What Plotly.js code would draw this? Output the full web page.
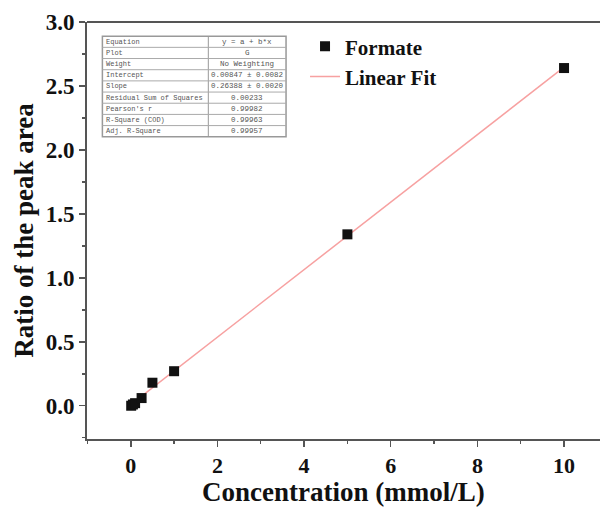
<!DOCTYPE html>
<html>
<head>
<meta charset="utf-8">
<script src="https://cdn.plot.ly/plotly-3.0.1.min.js"></script>
<style>
  html, body { margin: 0; padding: 0; background: #fff; }
  #chart { width: 600px; height: 511px; }
</style>
</head>
<body>
<div id="chart"></div>
<script>
// Formate calibration: concentration vs. peak-area ratio
const concentration = [0.01, 0.05, 0.1, 0.25, 0.5, 1, 5, 10];
const peakRatio = [0.0, 0.01, 0.02, 0.06, 0.18, 0.27, 1.34, 2.64];

// Linear fit parameters (y = a + b*x)
const fitIntercept = 0.00847;
const fitSlope = 0.26388;
const fitX = [0, 10];

// Fit summary table
const statLabels = ["Equation", "Plot", "Weight", "Intercept", "Slope",
  "Residual Sum of Squares", "Pearson's r", "R-Square (COD)", "Adj. R-Square"];
const statValues = ["y = a + b*x", "G", "No Weighting", "0.00847 \u00b1 0.0082",
  "0.26388 \u00b1 0.0020", "0.00233", "0.99982", "0.99963", "0.99957"];

const fitY = fitX.map(x => fitIntercept + fitSlope * x);

const serif = "Liberation Serif, Times New Roman, serif";
const mono = "Liberation Mono, DejaVu Sans Mono, monospace";
const axisColor = "#555";

const traces = [
  {
    x: fitX, y: fitY, type: "scatter", mode: "lines", name: "Linear Fit",
    line: { color: "#f7a1a1", width: 1.5 }
  },
  {
    x: concentration, y: peakRatio, type: "scatter", mode: "markers", name: "Formate",
    marker: { symbol: "square", size: 10, color: "#111", line: { width: 0 } }
  }
];

// Table geometry in paper coordinates
const tLeft = 0.030, tSplit = 0.2365, tRight = 0.388, tTop = 0.966, rowH = 0.0268;
const shapes = [];
const annotations = [];
const nRows = statLabels.length;
const tBottom = tTop - nRows * rowH;
shapes.push({ type: "rect", xref: "paper", yref: "paper", x0: tLeft, x1: tRight, y0: tBottom, y1: tTop,
  line: { color: "#999", width: 1.5 }, fillcolor: "#fff", layer: "above" });
shapes.push({ type: "line", xref: "paper", yref: "paper", x0: tSplit, x1: tSplit, y0: tBottom, y1: tTop,
  line: { color: "#999", width: 1 }, layer: "above" });
for (let i = 1; i < nRows; i++) {
  const yy = tTop - i * rowH;
  shapes.push({ type: "line", xref: "paper", yref: "paper", x0: tLeft, x1: tRight, y0: yy, y1: yy,
    line: { color: "#aaa", width: 1 }, layer: "above" });
}
statLabels.forEach((lab, i) => {
  const yc = tTop - (i + 0.5) * rowH;
  annotations.push({ xref: "paper", yref: "paper", x: tLeft + 0.003, y: yc, xanchor: "left", yanchor: "middle",
    text: lab, showarrow: false, font: { family: mono, size: 7, color: "#555" } });
  annotations.push({ xref: "paper", yref: "paper", x: (tSplit + tRight) / 2, y: yc, xanchor: "center", yanchor: "middle",
    text: statValues[i], showarrow: false, font: { family: mono, size: 7.5, color: "#555" } });
});

// X-axis title, set just below the tick labels
annotations.push({ xref: "paper", yref: "paper", x: 0.5, y: -0.128, xanchor: "center", yanchor: "middle",
  text: "Concentration (mmol/L)", showarrow: false,
  font: { family: serif, size: 27, color: "#111", weight: "bold" } });

// Top frame line
shapes.push({ type: "line", xref: "paper", yref: "paper", x0: 0, x1: 1, y0: 1, y1: 1,
  line: { color: axisColor, width: 2 } });

const layout = {
  width: 600, height: 511,
  margin: { l: 87, r: 0, t: 22, b: 72 },
  paper_bgcolor: "#fff", plot_bgcolor: "#fff",
  showlegend: true,
  legend: {
    x: 0.425, y: 0.99, xanchor: "left", yanchor: "top",
    bgcolor: "rgba(0,0,0,0)", traceorder: "reversed",
    font: { family: serif, size: 21, color: "#111", weight: "bold" },
    tracegroupgap: 0
  },
  xaxis: {
    range: [-1.01, 10.83], showgrid: false, zeroline: false,
    showline: true, linecolor: axisColor, linewidth: 2,
    ticks: "outside", ticklen: 6, tickwidth: 1.5, tickcolor: axisColor,
    tick0: 0, dtick: 2,
    minor: { ticks: "outside", ticklen: 3, tickwidth: 1.5, tickcolor: axisColor, dtick: 1, tick0: 0 },
    tickfont: { family: serif, size: 22, color: "#111", weight: "bold" }
  },
  yaxis: {
    range: [-0.26, 3.0], showgrid: false, zeroline: false,
    showline: true, linecolor: axisColor, linewidth: 2,
    ticks: "outside", ticklen: 6, tickwidth: 1.5, tickcolor: axisColor,
    tick0: 0, dtick: 0.5, tickformat: ".1f",
    minor: { ticks: "outside", ticklen: 3, tickwidth: 1.5, tickcolor: axisColor, dtick: 0.25, tick0: 0 },
    tickfont: { family: serif, size: 23, color: "#111", weight: "bold" },
    title: { text: "Ratio of the peak area", standoff: 4,
      font: { family: serif, size: 27, color: "#111", weight: "bold" } }
  },
  shapes: shapes,
  annotations: annotations
};

Plotly.newPlot("chart", traces, layout, { displayModeBar: false, staticPlot: true });
</script>
</body>
</html>
